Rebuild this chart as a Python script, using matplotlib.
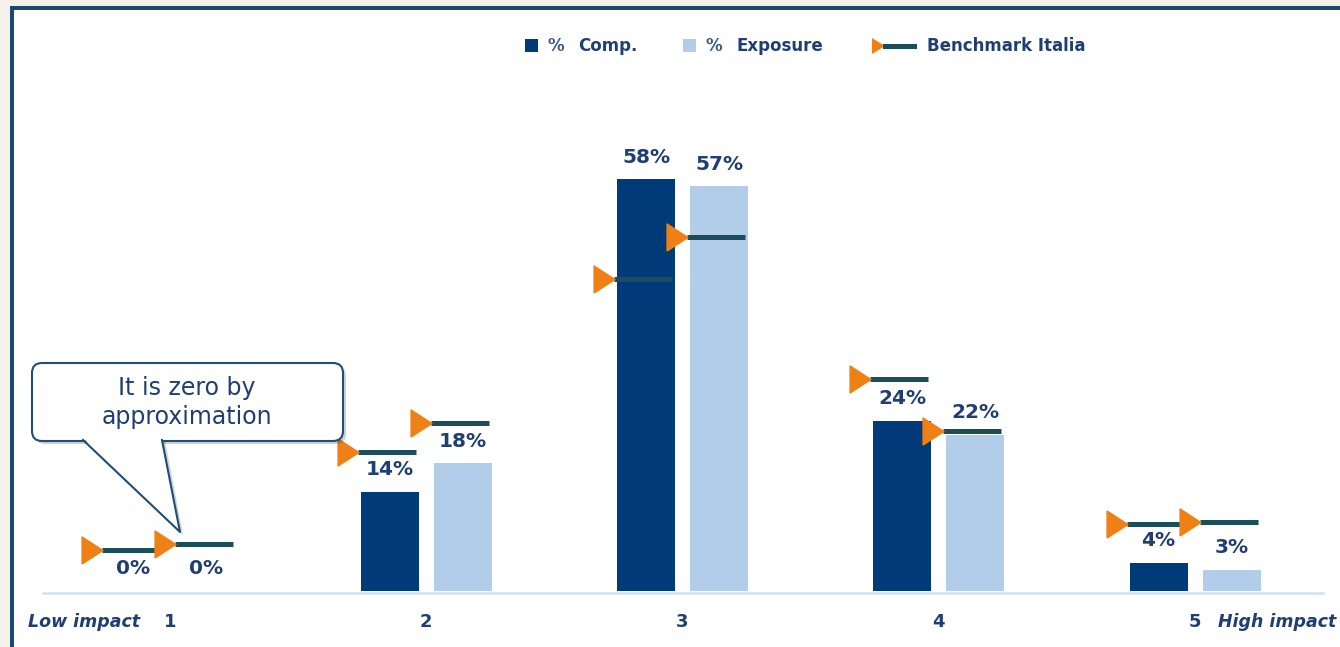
import matplotlib.pyplot as plt
from matplotlib.patches import FancyBboxPatch, Polygon, Rectangle

# impact classes and shares (%)
groups = ['1', '2', '3', '4', '5']
comp = [0, 14, 58, 24, 4]
exposure = [0, 18, 57, 22, 3]
bench_comp = [5.8, 19.6, 43.9, 29.9, 9.4]
bench_exp = [6.6, 23.7, 49.9, 22.5, 9.7]

NAVY = '#003a78'
LIGHT = '#b1cdea'
TEAL = '#1b4e5b'
ORANGE = '#ef8015'
TEXT = '#1f3f74'
BORDER = '#1b4a6e'

W, H = 1340, 647
fig = plt.figure(figsize=(W / 100, H / 100), dpi=100)
fig.patch.set_facecolor('white')

# data axes cover the canvas: group 1 sits at x=170px, 0% at y=591px
PX_X = 256.25   # pixels per group
PX_Y = 7.1      # pixels per percentage point
ax = fig.add_axes([0, 0, 1, 1])
ax.set_xlim(-170 / PX_X, (W - 170) / PX_X)
ax.set_ylim(-(H - 591) / PX_Y, 591 / PX_Y)
ax.axis('off')

bw = 58 / PX_X
off = 36.5 / PX_X
xs = list(range(len(groups)))

ax.axhline(-0.3, xmin=43 / W, xmax=1323 / W, color='#cfe2f3', lw=1.8, zorder=1)

tri = [(-0.77, -1), (0.77, 0), (-0.77, 1), (-0.77, -1)]

for series, bench, color, sign in [(comp, bench_comp, NAVY, -1),
                                   (exposure, bench_exp, LIGHT, 1)]:
    centers = [x + sign * off for x in xs]
    ax.bar(centers, series, width=bw, color=color, zorder=3)
    for xc, v, b in zip(centers, series, bench):
        ax.annotate(f'{v}%', (xc, v), xytext=(0, 12), textcoords='offset points',
                    ha='center', va='baseline', fontsize=14.5,
                    fontweight='bold', color=TEXT, zorder=5)
        left = xc - bw / 2
        ax.hlines(b, left - 3 / PX_X, left + bw - 3 / PX_X, color=TEAL,
                  lw=3.6, zorder=4)
        ax.plot(left - 13 / PX_X, b, marker=tri, ms=19.5, color=ORANGE,
                ls='none', zorder=4)

# category labels under the baseline
for x, g in zip(xs, groups):
    ax.text(x, -31 / PX_Y, g, ha='center', va='center', fontsize=13,
            fontweight='bold', color=TEXT)
ax.text(-30 / PX_X, -31 / PX_Y, 'Low impact', ha='right', va='center',
        fontsize=12.5, fontweight='bold', fontstyle='italic', color=TEXT)
ax.text(4 + 23 / PX_X, -31 / PX_Y, 'High impact', ha='left', va='center',
        fontsize=12.5, fontweight='bold', fontstyle='italic', color=TEXT)

# overlay in pixel units for frame, legend and callout
ov = fig.add_axes([0, 0, 1, 1])
ov.set_xlim(0, W)
ov.set_ylim(H, 0)
ov.axis('off')
ov.patch.set_alpha(0)

ov.add_patch(Rectangle((0, 0), W, 6, color='#f4f1ea', lw=0))
ov.add_patch(Rectangle((0, 0), 10, H, color='#f4f1ea', lw=0))
ov.add_patch(Rectangle((10, 6), W - 10, 4, color=BORDER, lw=0))
ov.add_patch(Rectangle((10, 6), 4, H - 6, color=BORDER, lw=0))

# legend
ov.add_patch(Rectangle((525, 39), 13, 13, color=NAVY, lw=0))
ov.text(547, 46, '%', va='center', fontsize=12, fontweight='bold', color='#3a5a8c')
ov.text(578, 46, 'Comp.', va='center', fontsize=12, fontweight='bold', color=TEXT)
ov.add_patch(Rectangle((683, 39), 13, 13, color=LIGHT, lw=0))
ov.text(705, 46, '%', va='center', fontsize=12, fontweight='bold', color='#3a5a8c')
ov.text(737, 46, 'Exposure', va='center', fontsize=12, fontweight='bold', color=TEXT)
ov.add_patch(Polygon([(872, 38), (885, 46), (872, 54)], color=ORANGE, lw=0))
ov.plot([885, 914], [46, 46], color=TEAL, lw=3.6)
ov.text(927, 46, 'Benchmark Italia', va='center', fontsize=12,
        fontweight='bold', color=TEXT)

# callout box with pointer
sh = 3
ov.add_patch(FancyBboxPatch((32 + sh, 363 + sh), 311, 78,
                            boxstyle='round,pad=0,rounding_size=10',
                            fc='#000000', alpha=0.18, lw=0, zorder=6))
ov.add_patch(Polygon([(83 + sh, 440), (180 + sh, 532 + sh), (162 + sh, 440)],
                     fc='#000000', alpha=0.18, lw=0, zorder=6))
ov.add_patch(FancyBboxPatch((32, 363), 311, 78,
                            boxstyle='round,pad=0,rounding_size=10',
                            fc='white', ec='#1f4e79', lw=1.5, zorder=7))
ov.add_patch(Polygon([(84, 439), (180, 532), (161, 439)], fc='white', lw=0,
                     zorder=8))
ov.plot([83, 180, 162], [440, 532, 440], color='#1f4e79', lw=1.5, zorder=9)
ov.text(187, 388, 'It is zero by', ha='center', va='center', fontsize=17,
        color=TEXT, zorder=10)
ov.text(187, 417, 'approximation', ha='center', va='center', fontsize=17,
        color=TEXT, zorder=10)

fig.savefig('out.png', dpi=100)
